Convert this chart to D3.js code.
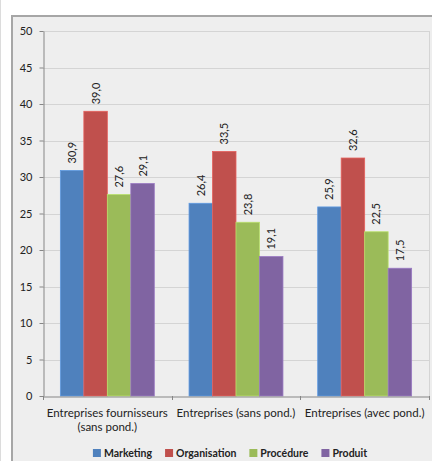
<!DOCTYPE html>
<html>
<head>
<meta charset="utf-8">
<script src="https://cdn.jsdelivr.net/npm/d3@7"></script>
<style>
  html, body { margin: 0; padding: 0; background: #ffffff; }
  svg { display: block; font-family: Lato, "Open Sans", sans-serif; }
</style>
</head>
<body>
<svg id="chart" width="432" height="461"></svg>
<script>
// Category labels (split into display lines)
const categories = ["Entreprises fournisseurs (sans pond.)", "Entreprises (sans pond.)", "Entreprises (avec pond.)"];
const categoryLines = [["Entreprises fournisseurs", "(sans pond.)"], ["Entreprises (sans pond.)"], ["Entreprises (avec pond.)"]];

// Series names, colours and values per category
const seriesNames = ["Marketing", "Organisation", "Procédure", "Produit"];
const seriesColors = ["#4F81BD", "#C0504D", "#9BBB59", "#8064A2"];
const marketing = [30.9, 26.4, 25.9];
const organisation = [39.0, 33.5, 32.6];
const procedure = [27.6, 23.8, 22.5];
const produit = [29.1, 19.1, 17.5];
const seriesValues = [marketing, organisation, procedure, produit];

const yTicks = [0, 5, 10, 15, 20, 25, 30, 35, 40, 45, 50];

const svg = d3.select("#chart");
const W = 432, H = 461;

// Page edge line and chart frame
svg.append("line").attr("x1", 0.5).attr("x2", 0.5).attr("y1", 0).attr("y2", H)
  .attr("stroke", "#dcdcdc").attr("stroke-width", 1);
svg.append("rect")
  .attr("x", 12).attr("y", 16).attr("width", W + 10).attr("height", H + 10)
  .attr("fill", "#eeeeee").attr("stroke", "#a6a6a6").attr("stroke-width", 2);

const plot = { left: 43, right: 429, top: 31, bottom: 396 };

const x0 = d3.scaleBand().domain(categories).range([plot.left, plot.right]).padding(0);
const x1 = d3.scaleBand().domain(seriesNames).range([0, x0.bandwidth()])
  .paddingInner(0).paddingOuter(0.74);
const y = d3.scaleLinear().domain([0, 50]).range([plot.bottom, plot.top]);
const color = d3.scaleOrdinal().domain(seriesNames).range(seriesColors);

// Gridlines
svg.append("g").selectAll("line").data(yTicks.filter(d => d > 0)).join("line")
  .attr("x1", plot.left).attr("x2", plot.right)
  .attr("y1", d => Math.round(y(d)) + 0.5).attr("y2", d => Math.round(y(d)) + 0.5)
  .attr("stroke", "#d4d4d4").attr("stroke-width", 1);
// Plot area right border
svg.append("line").attr("x1", plot.right + 0.5).attr("x2", plot.right + 0.5)
  .attr("y1", plot.top).attr("y2", plot.bottom)
  .attr("stroke", "#d4d4d4");

// Bars
const rows = categories.map((c, i) => ({ cat: c, vals: seriesNames.map((s, k) => ({ s, v: seriesValues[k][i] })) }));
const groups = svg.append("g").selectAll("g").data(rows).join("g")
  .attr("transform", d => `translate(${x0(d.cat)},0)`);
groups.selectAll("rect").data(d => d.vals).join("rect")
  .attr("x", d => x1(d.s))
  .attr("y", d => y(d.v))
  .attr("width", x1.bandwidth())
  .attr("height", d => y(0) - y(d.v))
  .attr("fill", d => color(d.s))
  .attr("stroke", d => d3.color(color(d.s)).brighter(0.5))
  .attr("stroke-width", 0.8);

// Value labels (rotated)
const fmt = v => v.toFixed(1).replace(".", ",");
groups.selectAll("text").data(d => d.vals).join("text")
  .attr("transform", d => `translate(${x1(d.s) + x1.bandwidth() / 2 + 4},${y(d.v) - 7}) rotate(-90)`)
  .attr("text-anchor", "start")
  .attr("font-size", 11)
  .attr("fill", "#222")
  .text(d => fmt(d.v));

// Y axis
const yAxis = svg.append("g")
  .attr("transform", `translate(${plot.left + 0.5},0)`)
  .call(d3.axisLeft(y).tickValues(yTicks).tickSize(4).tickPadding(7).tickSizeOuter(0));
yAxis.select(".domain").attr("stroke", "#868686");
yAxis.selectAll(".tick line").attr("stroke", "#868686");
yAxis.selectAll(".tick text").attr("font-size", 11).attr("fill", "#222").attr("font-family", "Lato, sans-serif");

// X axis
const xAxis = svg.append("g")
  .attr("transform", `translate(0,${plot.bottom + 0.5})`)
  .call(d3.axisBottom(x0).tickSize(0).tickFormat(""));
xAxis.select(".domain").attr("stroke", "#868686");
// Category boundary ticks
const boundaries = categories.map(c => x0(c)).concat([plot.right]);
svg.append("g").selectAll("line").data(boundaries).join("line")
  .attr("x1", d => Math.round(d) + 0.5).attr("x2", d => Math.round(d) + 0.5)
  .attr("y1", plot.bottom).attr("y2", plot.bottom + 4)
  .attr("stroke", "#868686");

// Category labels
categories.forEach((c, i) => {
  const t = svg.append("text")
    .attr("x", x0(c) + x0.bandwidth() / 2)
    .attr("y", 417)
    .attr("text-anchor", "middle")
    .attr("font-size", 11.5)
    .attr("fill", "#222");
  categoryLines[i].forEach((line, j) => {
    t.append("tspan").attr("x", x0(c) + x0.bandwidth() / 2).attr("dy", j === 0 ? 0 : 14).text(line);
  });
});

// Legend: items laid out from measured text widths, centred under the plot
const legendCenter = 230, swatch = 8, swatchGap = 3, itemGap = 13;
const legend = svg.append("g").attr("transform", "translate(0,449)");
const items = legend.selectAll("g").data(seriesNames).join("g");
items.append("rect").attr("width", swatch).attr("height", swatch).attr("fill", d => color(d));
items.append("text").attr("x", swatch + swatchGap).attr("y", 8)
  .attr("font-size", 10.5).attr("font-weight", "bold").attr("fill", "#222")
  .text(d => d);
const widths = [];
items.each(function () {
  widths.push(swatch + swatchGap + d3.select(this).select("text").node().getComputedTextLength());
});
const total = d3.sum(widths) + itemGap * (widths.length - 1);
let cx = legendCenter - total / 2;
items.attr("transform", (d, i) => {
  const t = `translate(${cx},0)`;
  cx += widths[i] + itemGap;
  return t;
});
</script>
</body>
</html>
